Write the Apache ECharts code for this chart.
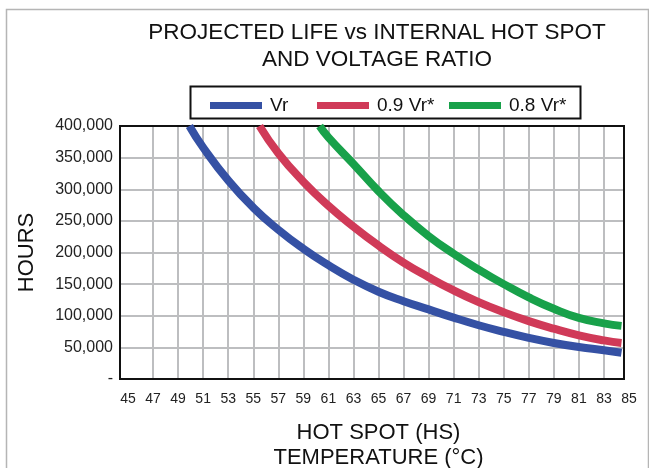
<!DOCTYPE html>
<html>
<head>
<meta charset="utf-8">
<script src="https://cdn.jsdelivr.net/npm/echarts@6/dist/echarts.min.js"></script>
<style>
html,body{margin:0;padding:0;background:#fff;}
#c{width:649px;height:468px;}
</style>
</head>
<body>
<div id="c"></div>
<script>
const titleLines = ['PROJECTED LIFE vs INTERNAL HOT SPOT', 'AND VOLTAGE RATIO'];
const seriesNames = ['Vr', '0.9 Vr*', '0.8 Vr*'];
const xAxisTitle = 'HOT SPOT (HS)\nTEMPERATURE (°C)';
const yAxisTitle = 'HOURS';
// [temperature °C, hours]
const vrData = [[49.9,400000],[51,366000],[53,314000],[55,271000],[57,236000],[59,206000],[61,180000],[63,157000],[65,138000],[67,123000],[69,110000],[71,97000],[73,85000],[75,74500],[77,65000],[79,57000],[81,50500],[83,45500],[84.4,41500]];
const vr09Data = [[55.5,400000],[57,357000],[59,312000],[61,274000],[63,241000],[65,211000],[67,184000],[69,161000],[71,140000],[73,121500],[75,105500],[77,91500],[79,79500],[81,69000],[83,61000],[84.4,57000]];
const vr08Data = [[60.3,400000],[61,382000],[63,340000],[65,297000],[67,259000],[69,226000],[71,198000],[73,173000],[75,150000],[77,129000],[79,111000],[81,96500],[83,88000],[84.4,84000]];
const colors = ['#3551a4', '#d03a58', '#18a14a'];

const chart = echarts.init(document.getElementById('c'));
const font = 'Liberation Sans, Arial, sans-serif';
const legendBase = {
  top: 91, itemWidth: 52, itemHeight: 7, icon: 'rect',
  textStyle: {fontFamily: font, fontSize: 19, color: '#111', padding: [0, 0, 0, 3]}
};
chart.setOption({
  animation: false,
  color: colors,
  graphic: [{
    type: 'rect', left: 4, top: 7, z: -1,
    shape: {width: 642, height: 470},
    style: {fill: 'none', stroke: '#b5b5b5', lineWidth: 1.5}
  }, {
    type: 'rect', left: 188, top: 84, z: 1,
    shape: {width: 390, height: 32},
    style: {fill: 'none', stroke: '#111', lineWidth: 2}
  }],
  title: {
    text: titleLines.join('\n'),
    left: 377, top: 19, textAlign: 'center', padding: 0,
    textStyle: {fontFamily: font, fontSize: 22.5, fontWeight: 'normal', color: '#111', lineHeight: 27}
  },
  legend: [
    Object.assign({left: 205, data: [seriesNames[0]]}, legendBase),
    Object.assign({left: 312, data: [seriesNames[1]]}, legendBase),
    Object.assign({left: 444, data: [seriesNames[2]]}, legendBase)
  ],
  grid: [
    {left: 128, right: 20, top: 126, bottom: 89, show: false, outerBoundsMode: 'none', containLabel: false},
    {left: 120, right: 25, top: 126, bottom: 89, show: true, borderColor: '#111', borderWidth: 2, z: 3, outerBoundsMode: 'none', containLabel: false}
  ],
  xAxis: [{
    gridIndex: 0, type: 'value', min: 45, max: 85, interval: 2,
    name: xAxisTitle, nameLocation: 'middle', nameGap: 41,
    nameTextStyle: {fontFamily: font, fontSize: 22, color: '#111', lineHeight: 25},
    axisLine: {show: false}, axisTick: {show: false},
    axisLabel: {fontFamily: font, fontSize: 14, color: '#222', margin: 13},
    splitLine: {show: true, showMinLine: false, showMaxLine: false, lineStyle: {color: '#bdbec0', width: 2}}
  }, {
    gridIndex: 1, type: 'value', min: 45, max: 85, show: false, splitLine: {show: false}
  }],
  yAxis: [{
    gridIndex: 0, type: 'value', min: 0, max: 400000, show: false, splitLine: {show: false}
  }, {
    gridIndex: 1, type: 'value', min: 0, max: 400000, interval: 50000,
    name: yAxisTitle, nameLocation: 'middle', nameGap: 82, nameRotate: 90,
    nameTextStyle: {fontFamily: font, fontSize: 22, color: '#111'},
    axisLine: {show: false}, axisTick: {show: false},
    axisLabel: {
      fontFamily: font, fontSize: 16, color: '#222', margin: 7,
      formatter: v => v === 0 ? '-' : v.toLocaleString('en-US')
    },
    splitLine: {show: true, lineStyle: {color: '#bdbec0', width: 2}}
  }],
  series: [
    {name: seriesNames[0], type: 'line', xAxisIndex: 0, yAxisIndex: 0, data: vrData, smooth: true, showSymbol: false, lineStyle: {width: 8}, z: 4},
    {name: seriesNames[1], type: 'line', xAxisIndex: 0, yAxisIndex: 0, data: vr09Data, smooth: true, showSymbol: false, lineStyle: {width: 8}, z: 4},
    {name: seriesNames[2], type: 'line', xAxisIndex: 0, yAxisIndex: 0, data: vr08Data, smooth: true, showSymbol: false, lineStyle: {width: 8}, z: 4}
  ]
});
</script>
</body>
</html>
